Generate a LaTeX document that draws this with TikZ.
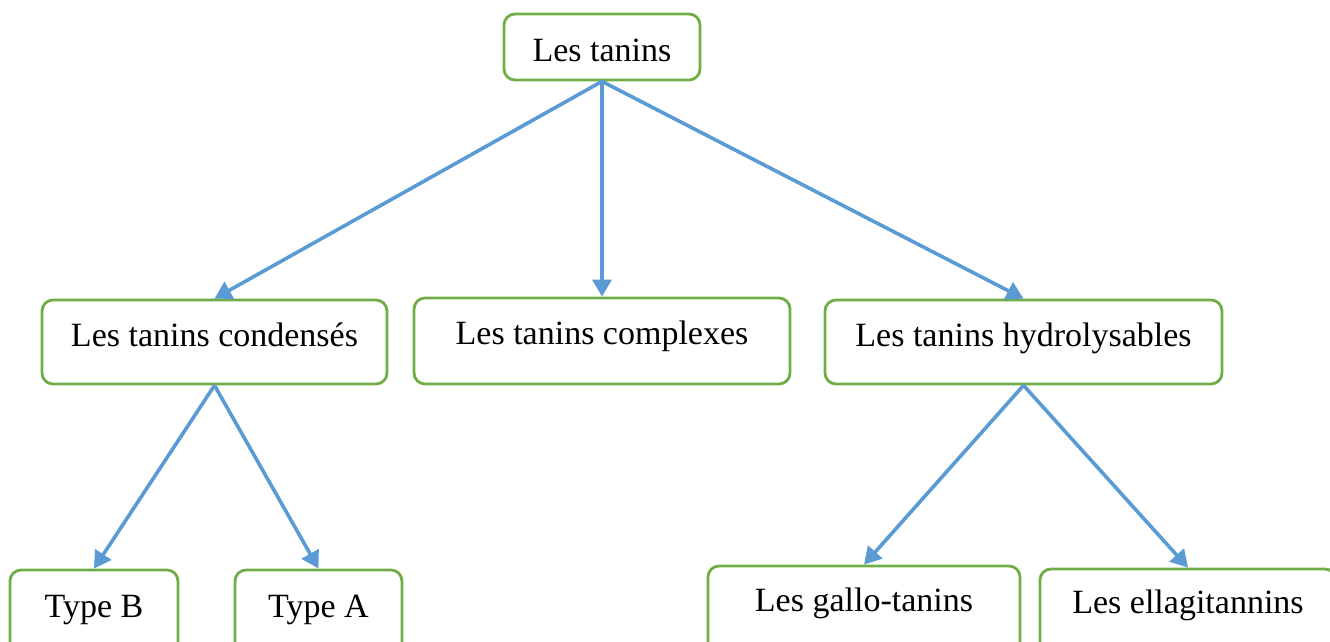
\documentclass[tikz,border=0pt]{standalone}
\usepackage{fontspec}
\setmainfont{Liberation Serif}
\usetikzlibrary{arrows.meta}
\definecolor{boxgreen}{HTML}{70AD47}
\definecolor{arrowblue}{HTML}{5B9BD5}
\begin{document}
\begin{tikzpicture}[x=1pt,y=-1pt,
  box/.style={draw=boxgreen,line width=2.8pt,rounded corners=11pt,fill=white,
    inner sep=0pt,text height=24pt,text depth=8pt,
    font=\fontsize{34}{40}\selectfont,text=black},
  arr/.style={draw=arrowblue,line width=3.6pt,
    -{Triangle[length=17pt,width=19pt]}}]
\useasboundingbox (0,0) rectangle (1330,641);
\clip (0,0) rectangle (1330,641);
\node[box,minimum width=196pt,minimum height=66pt] (top) at (602,47) {\raisebox{-6pt}{Les tanins}};
\node[box,minimum width=345pt,minimum height=84pt] (cond) at (214.5,342) {\raisebox{4pt}{Les tanins condensés}};
\node[box,minimum width=376pt,minimum height=86pt] (comp) at (602,341) {\raisebox{5pt}{Les tanins complexes}};
\node[box,minimum width=397pt,minimum height=84pt] (hydro) at (1023.5,342) {\raisebox{4pt}{Les tanins hydrolysables}};
\node[box,minimum width=168pt,minimum height=90pt] (typeb) at (94,615) {\raisebox{6pt}{Type B}};
\node[box,minimum width=167pt,minimum height=90pt] (typea) at (318.5,615) {\raisebox{6pt}{Type A}};
\node[box,minimum width=312pt,minimum height=94pt] (gallo) at (864,613) {\raisebox{10pt}{Les gallo-tanins}};
\node[box,minimum width=296pt,minimum height=91pt] (ellagi) at (1188,614.5) {\raisebox{9.5pt}{Les ellagitannins}};
\draw[arr] (top.south) -- (cond.north);
\draw[arr] (top.south) -- (comp.north);
\draw[arr] (top.south) -- (hydro.north);
\draw[arr] (cond.south) -- (typeb.north);
\draw[arr] (cond.south) -- (typea.north);
\draw[arr] (hydro.south) -- (gallo.north);
\draw[arr] (hydro.south) -- (ellagi.north);
\end{tikzpicture}
\end{document}
